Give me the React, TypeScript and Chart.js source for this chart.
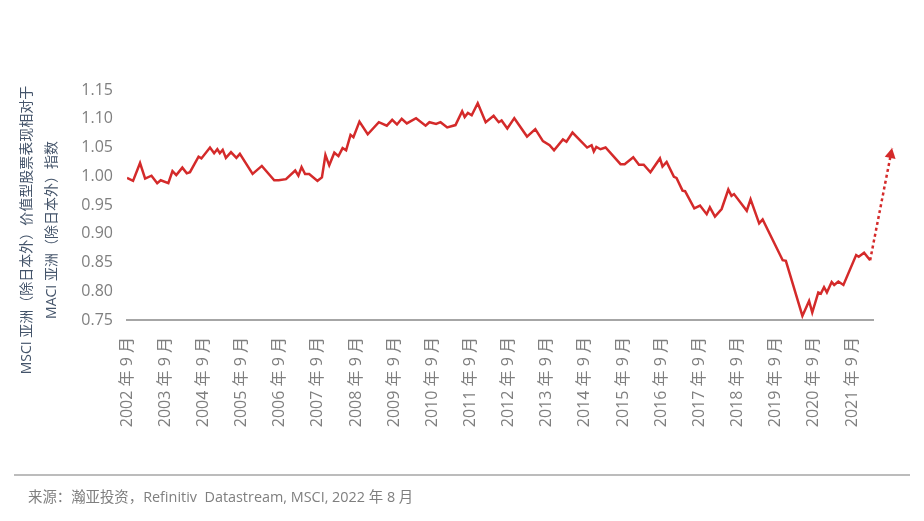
import React, { useEffect, useRef } from "react";
import { Chart, registerables } from "chart.js";

Chart.register(...registerables);

// months since Sep 2002
const xMonths = [
  0, 1.9, 4.1, 5.7, 7.7, 9.5, 10.6, 13.0, 14.3, 15.5, 17.4, 18.8, 19.8, 22.5, 23.4, 26.1, 27.4, 28.4, 29.2, 30.1,
  31.1, 32.7, 34.4, 35.5, 39.5, 42.4, 46.3, 47.7, 50.0, 52.9, 53.9, 54.9, 56.0, 57.3, 59.9, 61.3, 62.4, 63.6, 65.2,
  66.5, 67.8, 68.9, 70.3, 71.2, 73.1, 75.7, 79.2, 81.7, 83.4, 84.9, 86.4, 88.0, 90.9, 93.9, 95.1, 97.2, 98.6, 100.7,
  103.3, 105.4, 106.2, 107.2, 108.4, 110.3, 112.8, 115.3, 116.9, 117.8, 119.6, 121.8, 125.8, 128.4, 130.8, 132.9,
  134.3, 137.1, 138.2, 140.1, 144.7, 146.1, 146.8, 147.6, 148.9, 150.5, 155.2, 156.5, 159.2, 161.0, 162.5, 164.6,
  167.6, 168.4, 169.7, 172.0, 172.8, 174.7, 175.5, 178.4, 180.2, 182.3, 183.3, 184.9, 187.0, 189.1, 190.1, 190.9,
  194.9, 196.1, 198.8, 199.9, 206.2, 207.2, 212.4, 214.5, 215.5, 217.4, 218.2, 219.2, 220.1, 221.6, 222.4, 223.7,
  225.3, 229.3, 230.1, 231.8, 233.7,
];

const indexValues = [
  0.997, 0.992, 1.023, 0.996, 1.001, 0.988, 0.993, 0.988, 1.009, 1.002, 1.015, 1.005, 1.007, 1.034, 1.031, 1.05,
  1.04, 1.047, 1.04, 1.046, 1.032, 1.042, 1.032, 1.039, 1.004, 1.018, 0.993, 0.993, 0.995, 1.01, 1.001, 1.016, 1.004,
  1.004, 0.992, 0.998, 1.037, 1.019, 1.041, 1.035, 1.049, 1.045, 1.072, 1.068, 1.095, 1.073, 1.094, 1.088, 1.098,
  1.09, 1.1, 1.092, 1.101, 1.088, 1.094, 1.091, 1.094, 1.085, 1.089, 1.113, 1.103, 1.11, 1.106, 1.127, 1.094, 1.105,
  1.094, 1.097, 1.083, 1.101, 1.069, 1.082, 1.061, 1.054, 1.045, 1.064, 1.06, 1.076, 1.05, 1.054, 1.043, 1.051,
  1.047, 1.05, 1.021, 1.021, 1.033, 1.02, 1.02, 1.007, 1.031, 1.017, 1.025, 0.999, 0.997, 0.975, 0.974, 0.944,
  0.949, 0.934, 0.946, 0.93, 0.943, 0.977, 0.966, 0.969, 0.94, 0.96, 0.918, 0.925, 0.854, 0.853, 0.757, 0.783,
  0.763, 0.798, 0.796, 0.807, 0.798, 0.816, 0.811, 0.817, 0.811, 0.863, 0.86, 0.867, 0.854,
];

// projected (dotted arrow)
const projMonths = [233.7, 240.6];
const projValues = [0.854, 1.049];

const xTickValues = [0, 12, 24, 36, 48, 60, 72, 84, 96, 108, 120, 132, 144, 156, 168, 180, 192, 204, 216, 228];
const xTickLabels = [
  "2002 年 9 月", "2003 年 9 月", "2004 年 9 月", "2005 年 9 月", "2006 年 9 月", "2007 年 9 月", "2008 年 9 月",
  "2009 年 9 月", "2010 年 9 月", "2011 年 9 月", "2012 年 9 月", "2013 年 9 月", "2014 年 9 月", "2015 年 9 月",
  "2016 年 9 月", "2017 年 9 月", "2018 年 9 月", "2019 年 9 月", "2020 年 9 月", "2021 年 9 月",
];

const yTitleLines = ["MSCI 亚洲（除日本外）价值型股票表现相对于", "MACI 亚洲（除日本外）指数"];
const sourceText = "来源：瀚亚投资，Refinitiv  Datastream, MSCI, 2022 年 8 月";

const FONT = '"Open Sans", "Noto Sans CJK SC", sans-serif';
const RED = "#d42a2a";

export default function App() {
  const ref = useRef<HTMLCanvasElement | null>(null);

  useEffect(() => {
    document.body.style.margin = "0";
    const canvas = ref.current;
    if (!canvas) return;

    const decorPlugin = {
      id: "decor",
      afterDatasetsDraw(chart: any) {
        const meta = chart.getDatasetMeta(1);
        const pts = meta.data;
        if (pts.length >= 2) {
          const a = pts[pts.length - 2];
          const b = pts[pts.length - 1];
          const ang = Math.atan2(b.y - a.y, b.x - a.x);
          const ctx = chart.ctx;
          ctx.save();
          ctx.translate(b.x, b.y);
          ctx.rotate(ang);
          ctx.fillStyle = RED;
          ctx.beginPath();
          ctx.moveTo(0, 0);
          ctx.lineTo(-10, -5.5);
          ctx.lineTo(-10, 5.5);
          ctx.closePath();
          ctx.fill();
          ctx.restore();
        }
      },
      afterDraw(chart: any) {
        const ctx = chart.ctx;
        const area = chart.chartArea;
        ctx.save();
        // y-axis title, two rotated lines
        ctx.fillStyle = "#44546a";
        ctx.font = `14px ${FONT}`;
        ctx.textAlign = "center";
        ctx.textBaseline = "middle";
        const cy = (area.top + area.bottom) / 2 + 25;
        [27, 52].forEach((x, i) => {
          ctx.save();
          ctx.translate(x, cy);
          ctx.rotate(-Math.PI / 2);
          ctx.fillText(yTitleLines[i], 0, 0);
          ctx.restore();
        });
        // footer rule and source
        ctx.strokeStyle = "#a6a6a6";
        ctx.lineWidth = 1.5;
        ctx.beginPath();
        ctx.moveTo(14, 475);
        ctx.lineTo(910, 475);
        ctx.stroke();
        ctx.fillStyle = "#7f7f7f";
        ctx.font = `14.4px ${FONT}`;
        ctx.textAlign = "left";
        ctx.textBaseline = "middle";
        ctx.fillText(sourceText, 28, 498);
        ctx.restore();
      },
    };

    const chart = new Chart(canvas, {
      type: "line",
      data: {
        datasets: [
          {
            data: indexValues.map((v, i) => ({ x: xMonths[i], y: v })),
            borderColor: RED,
            borderWidth: 2.5,
            pointRadius: 0,
            tension: 0,
            fill: false,
          },
          {
            data: projValues.map((v, i) => ({ x: projMonths[i], y: v })),
            borderColor: RED,
            borderWidth: 2.5,
            borderDash: [3, 3],
            pointRadius: 0,
            tension: 0,
            fill: false,
            clip: false,
          },
        ],
      },
      plugins: [decorPlugin],
      options: {
        animation: false,
        responsive: false,
        maintainAspectRatio: false,
        events: [],
        layout: { padding: { top: 90, right: 51, left: 0, bottom: 0 } },
        plugins: { legend: { display: false }, tooltip: { enabled: false }, title: { display: false } },
        scales: {
          x: {
            type: "linear",
            min: 0,
            max: 234.6,
            grid: { display: false, drawTicks: false },
            border: { display: true, color: "#a6a6a6", width: 2 },
            afterFit: (s: any) => {
              s.height = 201;
            },
            afterBuildTicks: (s: any) => {
              s.ticks = xTickValues.map((v) => ({ value: v }));
            },
            ticks: {
              autoSkip: false,
              minRotation: 90,
              maxRotation: 90,
              padding: 17,
              color: "#7f7f7f",
              font: { family: FONT, size: 16 },
              callback: (_v: any, i: number) => xTickLabels[i],
            },
          },
          y: {
            min: 0.75,
            max: 1.15,
            grid: { display: false, drawTicks: false },
            border: { display: false },
            afterFit: (s: any) => {
              s.width = 127;
            },
            ticks: {
              stepSize: 0.05,
              padding: 14,
              color: "#7f7f7f",
              font: { family: FONT, size: 16 },
              callback: (v: any) => Number(v).toFixed(2),
            },
          },
        },
      },
    } as any);

    return () => chart.destroy();
  }, []);

  return (
    <div style={{ position: "fixed", left: 0, top: 0, width: 924, height: 521, background: "#fff" }}>
      <canvas ref={ref} width={924} height={521} style={{ width: 924, height: 521 }} />
    </div>
  );
}
